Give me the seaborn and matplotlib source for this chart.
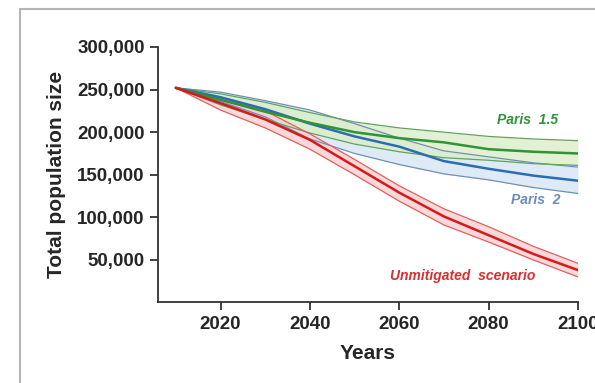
import numpy as np
import pandas as pd
import matplotlib
matplotlib.use("Agg")
import matplotlib.pyplot as plt
import seaborn as sns
from matplotlib.patches import Rectangle

years = [2010, 2020, 2030, 2040, 2050, 2060, 2070, 2080, 2090, 2100]

# values in individuals
unmit_mid = [252000, 234000, 215000, 191000, 160000, 129000, 101000, 79000, 57000, 38000]
unmit_hi = [252000, 240000, 225000, 198000, 168000, 137000, 110000, 89000, 66000, 46000]
unmit_lo = [252000, 226000, 205000, 180000, 150000, 119000, 91000, 71000, 50000, 30000]

p15_mid = [252000, 238000, 224000, 211000, 200000, 193000, 188000, 180000, 177000, 175000]
p15_hi = [252000, 245000, 235000, 223000, 212000, 205000, 200000, 195000, 192000, 190000]
p15_lo = [252000, 232000, 215000, 199000, 186000, 177000, 170000, 167000, 163000, 161000]

p2_mid = [252000, 241000, 227000, 210000, 195000, 183000, 166000, 157000, 149000, 143000]
p2_hi = [252000, 247000, 237000, 226000, 210000, 193000, 178000, 171000, 164000, 159000]
p2_lo = [252000, 236000, 218000, 192000, 175000, 162000, 151000, 144000, 135000, 128000]

yticks = [50000, 100000, 150000, 200000, 250000, 300000]
xticks = [2020, 2040, 2060, 2080, 2100]

scenarios = {
    "Paris 2": (p2_mid, p2_lo, p2_hi, "#2b6db3", "#d6e6f4", "#6e8fb8"),
    "Paris 1.5": (p15_mid, p15_lo, p15_hi, "#2e9436", "#dcedc8", "#5fa55f"),
    "Unmitigated scenario": (unmit_mid, unmit_lo, unmit_hi, "#d7191c", "#f7cfcf", "#e06060"),
}

rows = []
for name, (mid, lo, hi, *_c) in scenarios.items():
    for y, m, l, h in zip(years, mid, lo, hi):
        rows.append({"year": y, "scenario": name, "mid": m, "lo": l, "hi": h})
df = pd.DataFrame(rows)

sns.set_style("ticks")
plt.rcParams["font.family"] = ["Liberation Sans", "DejaVu Sans"]

fig = plt.figure(figsize=(5.95, 3.83), dpi=100)
ax = fig.add_axes([0.2655, 0.2102, 0.7059, 0.6671])

for name, (mid, lo, hi, col, fill, edge) in scenarios.items():
    sub = df[df.scenario == name]
    ax.fill_between(sub.year, sub.lo, sub.hi, color=fill, alpha=0.8, lw=0, zorder=1)
    sns.lineplot(data=sub, x="year", y="lo", color=edge, lw=0.9, ax=ax, zorder=2)
    sns.lineplot(data=sub, x="year", y="hi", color=edge, lw=0.9, ax=ax, zorder=2)
    sns.lineplot(data=sub, x="year", y="mid", color=col, lw=1.8, ax=ax, zorder=3)

ax.set_xlim(2006, 2100)
ax.set_ylim(0, 300000)
ax.set_xticks(xticks)
ax.set_yticks(yticks)
ax.set_yticklabels([f"{v:,}" for v in yticks])
ax.tick_params(labelsize=13.5, length=6, width=1.3, color="#333333")
for lab in ax.get_xticklabels() + ax.get_yticklabels():
    lab.set_fontweight("bold")
ax.set_xlabel("Years", fontsize=15, fontweight="bold", labelpad=8)
ax.set_ylabel("Total population size", fontsize=15, fontweight="bold", labelpad=8)
sns.despine(ax=ax)
for s in ["left", "bottom"]:
    ax.spines[s].set_color("#333333")
    ax.spines[s].set_linewidth(1.3)

ax.text(2088.8, 214700, "Paris  1.5", color="#2e9436", fontsize=10,
        fontweight="bold", style="italic", ha="center", va="center")
ax.text(2090.6, 120600, "Paris  2", color="#6a8cc0", fontsize=10,
        fontweight="bold", style="italic", ha="center", va="center")
ax.text(2074.3, 31000, "Unmitigated  scenario", color="#d23232", fontsize=10,
        fontweight="bold", style="italic", ha="center", va="center")

# grey frame around the panel
fig.patches.append(Rectangle((20 / 595, -0.1), 1.2, 1 - 9 / 383 + 0.1,
                             transform=fig.transFigure, fill=False,
                             edgecolor="#b5b5b5", lw=1.5, clip_on=False))

fig.savefig("out.png", dpi=100)
